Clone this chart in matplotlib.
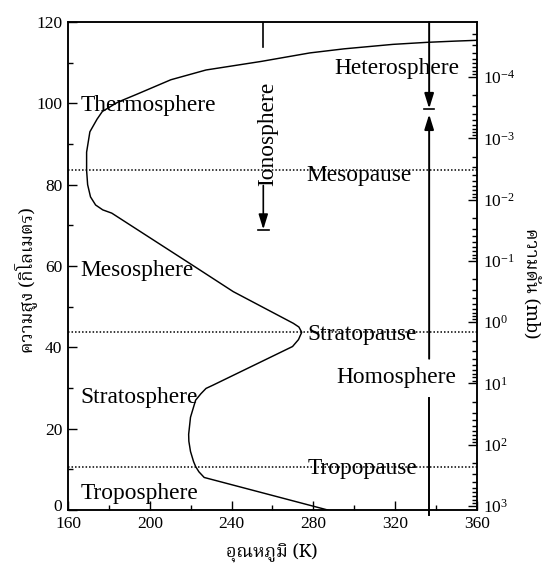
import matplotlib
matplotlib.use("Agg")
import matplotlib.pyplot as plt
import matplotlib.font_manager as fm
import matplotlib.transforms as mtransforms
from matplotlib import ft2font
import numpy as np

# ---------------- data ----------------
temp_K = [287.0, 226.6, 224.0, 222.4, 221.4, 219.9, 219.1, 219.0, 219.9, 222.4, 225.0, 227.5,
          230.9, 269.8, 272.7, 274.3, 272.9, 270.2, 240.8, 222.1, 181.4, 177.0, 173.5,
          171.0, 169.6, 169.1, 169.1, 170.7, 174.2, 176.8, 184.4, 193.5, 210.3, 227.5,
          254.4, 278.3, 295.0, 318.9, 335.6, 349.3, 360.0]
alt_km = [0.0, 8.0, 9.4, 10.7, 11.9, 14.4, 16.9, 18.6, 22.8, 27.0, 28.6, 29.9,
          30.7, 40.2, 41.9, 43.7, 45.0, 45.9, 53.7, 59.8, 73.0, 73.8, 75.0,
          77.0, 80.0, 83.5, 88.0, 93.0, 96.1, 98.0, 100.3, 102.2, 105.8, 108.2,
          110.3, 112.4, 113.4, 114.5, 115.0, 115.3, 115.5]

pause_names = ["Mesopause", "Stratopause", "Tropopause"]
pause_alt = [83.6, 43.7, 10.6]

layer_names = ["Thermosphere", "Mesosphere", "Stratosphere", "Troposphere"]
layer_alt = [98.0, 57.5, 26.2, 2.8]

x_ticks = [160, 200, 240, 280, 320, 360]
y_ticks = [0, 20, 40, 60, 80, 100, 120]
p_exps = [-4, -3, -2, -1, 0, 1, 2, 3]

xlabel = "อุณหภูมิ (K)"
ylabel = "ความสูง (กิโลเมตร)"
y2label = "ความดัน (mb)"

# ---------------- fonts ----------------
serif = "Liberation Serif"
thai_found = []
for f in fm.fontManager.ttflist:
    try:
        cm = ft2font.FT2Font(f.fname).get_charmap()
        if 0x0E04 in cm and 0x0E39 in cm and 0x0E21 in cm:
            thai_found.append(f.name)
    except Exception:
        pass
pref = ["Noto Serif Thai", "Norasi", "Kinnari", "Noto Sans Thai Looped", "Garuda",
        "Loma", "Sawasdee", "Noto Sans Thai"]
thai_family = None
for p in pref:
    if p in thai_found:
        thai_family = p
        break
if thai_family is None and thai_found:
    thai_family = thai_found[0]
thai_fams = ([thai_family] if thai_family else []) + [serif, "DejaVu Sans"]

plt.rcParams["font.family"] = [serif, "DejaVu Sans"]
plt.rcParams["mathtext.fontset"] = "custom"
plt.rcParams["mathtext.rm"] = serif
plt.rcParams["mathtext.it"] = serif + ":italic"

W, H = 543, 568
fig = plt.figure(figsize=(W / 100, H / 100), dpi=100)
L, R, T, B = 68, 477, 22, 510
ax = fig.add_axes([L / W, 1 - B / H, (R - L) / W, (B - T) / H])

ax.set_xlim(160, 360)
ax.set_ylim(0, 120)

ax.plot(temp_K, alt_km, color="black", lw=1.05, solid_joinstyle="round")

# dotted pause lines
for a in pause_alt:
    ax.plot([160, 360], [a, a], color="black", lw=1.1, ls=(0, (1.0, 1.3)))

fs = 16.8
ax.text(276.6, 81.0, pause_names[0], fontsize=fs, va="baseline", ha="left")
ax.text(277.0, 41.9, pause_names[1], fontsize=fs, va="baseline", ha="left")
ax.text(277.3, 8.9, pause_names[2], fontsize=fs, va="baseline", ha="left")

for name, a in zip(layer_names, layer_alt):
    ax.text(166.0, a, name, fontsize=fs, va="baseline", ha="left")

ax.text(290.1, 107.3, "Heterosphere", fontsize=fs, va="baseline", ha="left")
ax.text(291.0, 31.2, "Homosphere", fontsize=fs, va="baseline", ha="left")
ax.text(257.6, 92.6, "Ionosphere", fontsize=fs, rotation=90, va="center", ha="center")

arrow_kw = dict(arrowstyle="-|>,head_length=0.9,head_width=0.28", color="black",
                shrinkA=0, shrinkB=0)

# Ionosphere marker line
Ti = 255.5
ax.plot([Ti, Ti], [120, 113.9], color="black", lw=1.2)
ax.annotate("", xy=(Ti, 69.0), xytext=(Ti, 79.8), arrowprops=dict(lw=1.2, **arrow_kw))
ax.plot([Ti - 2.6, Ti + 2.6], [68.9, 68.9], color="black", lw=1.2)

# Heterosphere / homosphere line
Th = 336.6
ax.annotate("", xy=(Th, 98.7), xytext=(Th, 120), arrowprops=dict(lw=1.4, **arrow_kw))
ax.plot([Th - 2.6, Th + 2.6], [98.5, 98.5], color="black", lw=1.2)
ax.annotate("", xy=(Th, 97.3), xytext=(Th, 37.2), arrowprops=dict(lw=1.4, **arrow_kw))
ax.plot([Th, Th], [27.6, -1.3], color="black", lw=1.4, clip_on=False)

# axes styling
for s in ax.spines.values():
    s.set_linewidth(1.1)
ax.set_xticks(x_ticks)
ax.set_xticks(np.arange(180, 360, 40), minor=True)
ax.set_yticks(y_ticks)
ax.set_yticks(np.arange(10, 120, 20), minor=True)
ax.tick_params(which="both", direction="in", top=False, right=False, labelsize=12.5, width=1.0)
ax.tick_params(which="major", length=6.5, pad=4)
ax.tick_params(which="minor", length=3.5)
fig.canvas.draw()
lbl0 = ax.get_yticklabels()[0]
lbl0.set_transform(lbl0.get_transform() + mtransforms.ScaledTranslation(0, 5 / 100, fig.dpi_scale_trans))

# pressure axis
ax2 = ax.twinx()
ax2.set_yscale("log")
ax2.set_ylim(10 ** 3.066, 10 ** -4.897)
ax2.set_yticks([10.0 ** e for e in p_exps])
ax2.set_yticklabels([r"$10^{%d}$" % e for e in p_exps])
ax2.yaxis.set_minor_locator(matplotlib.ticker.LogLocator(base=10, subs=np.arange(2, 10), numticks=50))
ax2.yaxis.set_minor_formatter(matplotlib.ticker.NullFormatter())
ax2.tick_params(which="both", direction="in", labelsize=12.5, width=1.0)
ax2.tick_params(which="major", length=6.5, pad=4)
ax2.tick_params(which="minor", length=3.5)
for s in ax2.spines.values():
    s.set_linewidth(1.1)

# axis labels
fig.text(272 / W, 1 - 553 / H, xlabel, fontsize=13, ha="center", va="center", family=thai_fams)
fig.text(26 / W, 1 - 280 / H, ylabel, fontsize=13, ha="center", va="center", rotation=90, family=thai_fams)
fig.text(530 / W, 1 - 283 / H, y2label, fontsize=13, ha="center", va="center", rotation=270, family=thai_fams)

fig.savefig("out.png", dpi=100)
